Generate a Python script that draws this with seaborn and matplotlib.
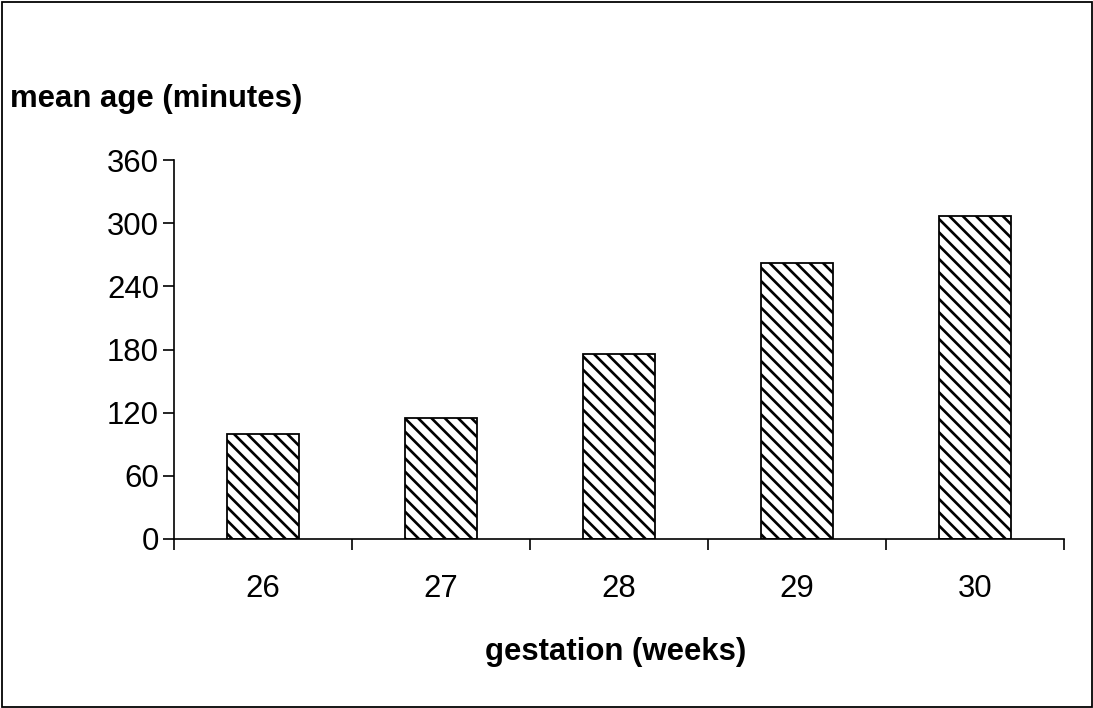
import matplotlib
matplotlib.use("Agg")
import matplotlib.pyplot as plt
import seaborn as sns
import pandas as pd
from matplotlib.patches import Rectangle

# Mean age (minutes) by gestation (weeks)
weeks = ["26", "27", "28", "29", "30"]
mean_age = [100, 115, 176, 262, 307]
y_ticks = [0, 60, 120, 180, 240, 300, 360]

sns.set_theme(style="white")
plt.rcParams["font.family"] = ["Liberation Sans", "DejaVu Sans"]
plt.rcParams["hatch.linewidth"] = 2.4
plt.rcParams["hatch.color"] = "black"

DPI = 80
W, H = 1093, 708
fig = plt.figure(figsize=(W / DPI, H / DPI), dpi=DPI)
fig.patch.set_facecolor("white")

# axes box in pixel terms: left 174, right 1064, top 160, bottom 539
ax = fig.add_axes([174 / W, (H - 538.7) / H, 890 / W, 378.4 / H])
ax.set_facecolor("white")

df = pd.DataFrame({"gestation": weeks, "mean_age": mean_age})
sns.barplot(
    data=df, x="gestation", y="mean_age", ax=ax,
    color="white", edgecolor="black", linewidth=1.6,
    hatch="\\\\", width=0.41, saturation=1, errorbar=None,
)

ax.set_xlim(-0.5, len(weeks) - 0.5)
ax.set_ylim(0, 360)
ax.set_yticks(y_ticks)
ax.set_yticklabels([str(v) for v in y_ticks])

for side in ("top", "right"):
    ax.spines[side].set_visible(False)
for side in ("left", "bottom"):
    ax.spines[side].set_color("black")
    ax.spines[side].set_linewidth(1.5)
    ax.spines[side].set_zorder(5)

ax.tick_params(axis="y", which="major", direction="out", length=9.9,
               width=1.5, color="black", pad=3.6, labelsize=28,
               labelcolor="black", left=True)
ax.tick_params(axis="x", which="major", length=0, pad=32, labelsize=28,
               labelcolor="black")
ax.set_xticks([i - 0.5 for i in range(len(weeks) + 1)], minor=True)
ax.tick_params(axis="x", which="minor", direction="out", length=9.9,
               width=1.5, color="black", bottom=True)

ax.set_xlabel("")
ax.set_ylabel("")

fig.text(10 / W, (H - 107) / H, "mean age (minutes)", fontsize=28,
         fontweight="bold", ha="left", va="baseline", color="black")
fig.text(616 / W, (H - 660) / H, "gestation (weeks)", fontsize=28,
         fontweight="bold", ha="center", va="baseline", color="black")

# outer frame around the chart area
fig.patches.append(Rectangle((1.5 / W, 1.5 / H), (W - 3) / W, (H - 3.5) / H,
                             transform=fig.transFigure, fill=False,
                             edgecolor="black", linewidth=1.6))

fig.savefig("out.png", dpi=DPI, facecolor="white")
